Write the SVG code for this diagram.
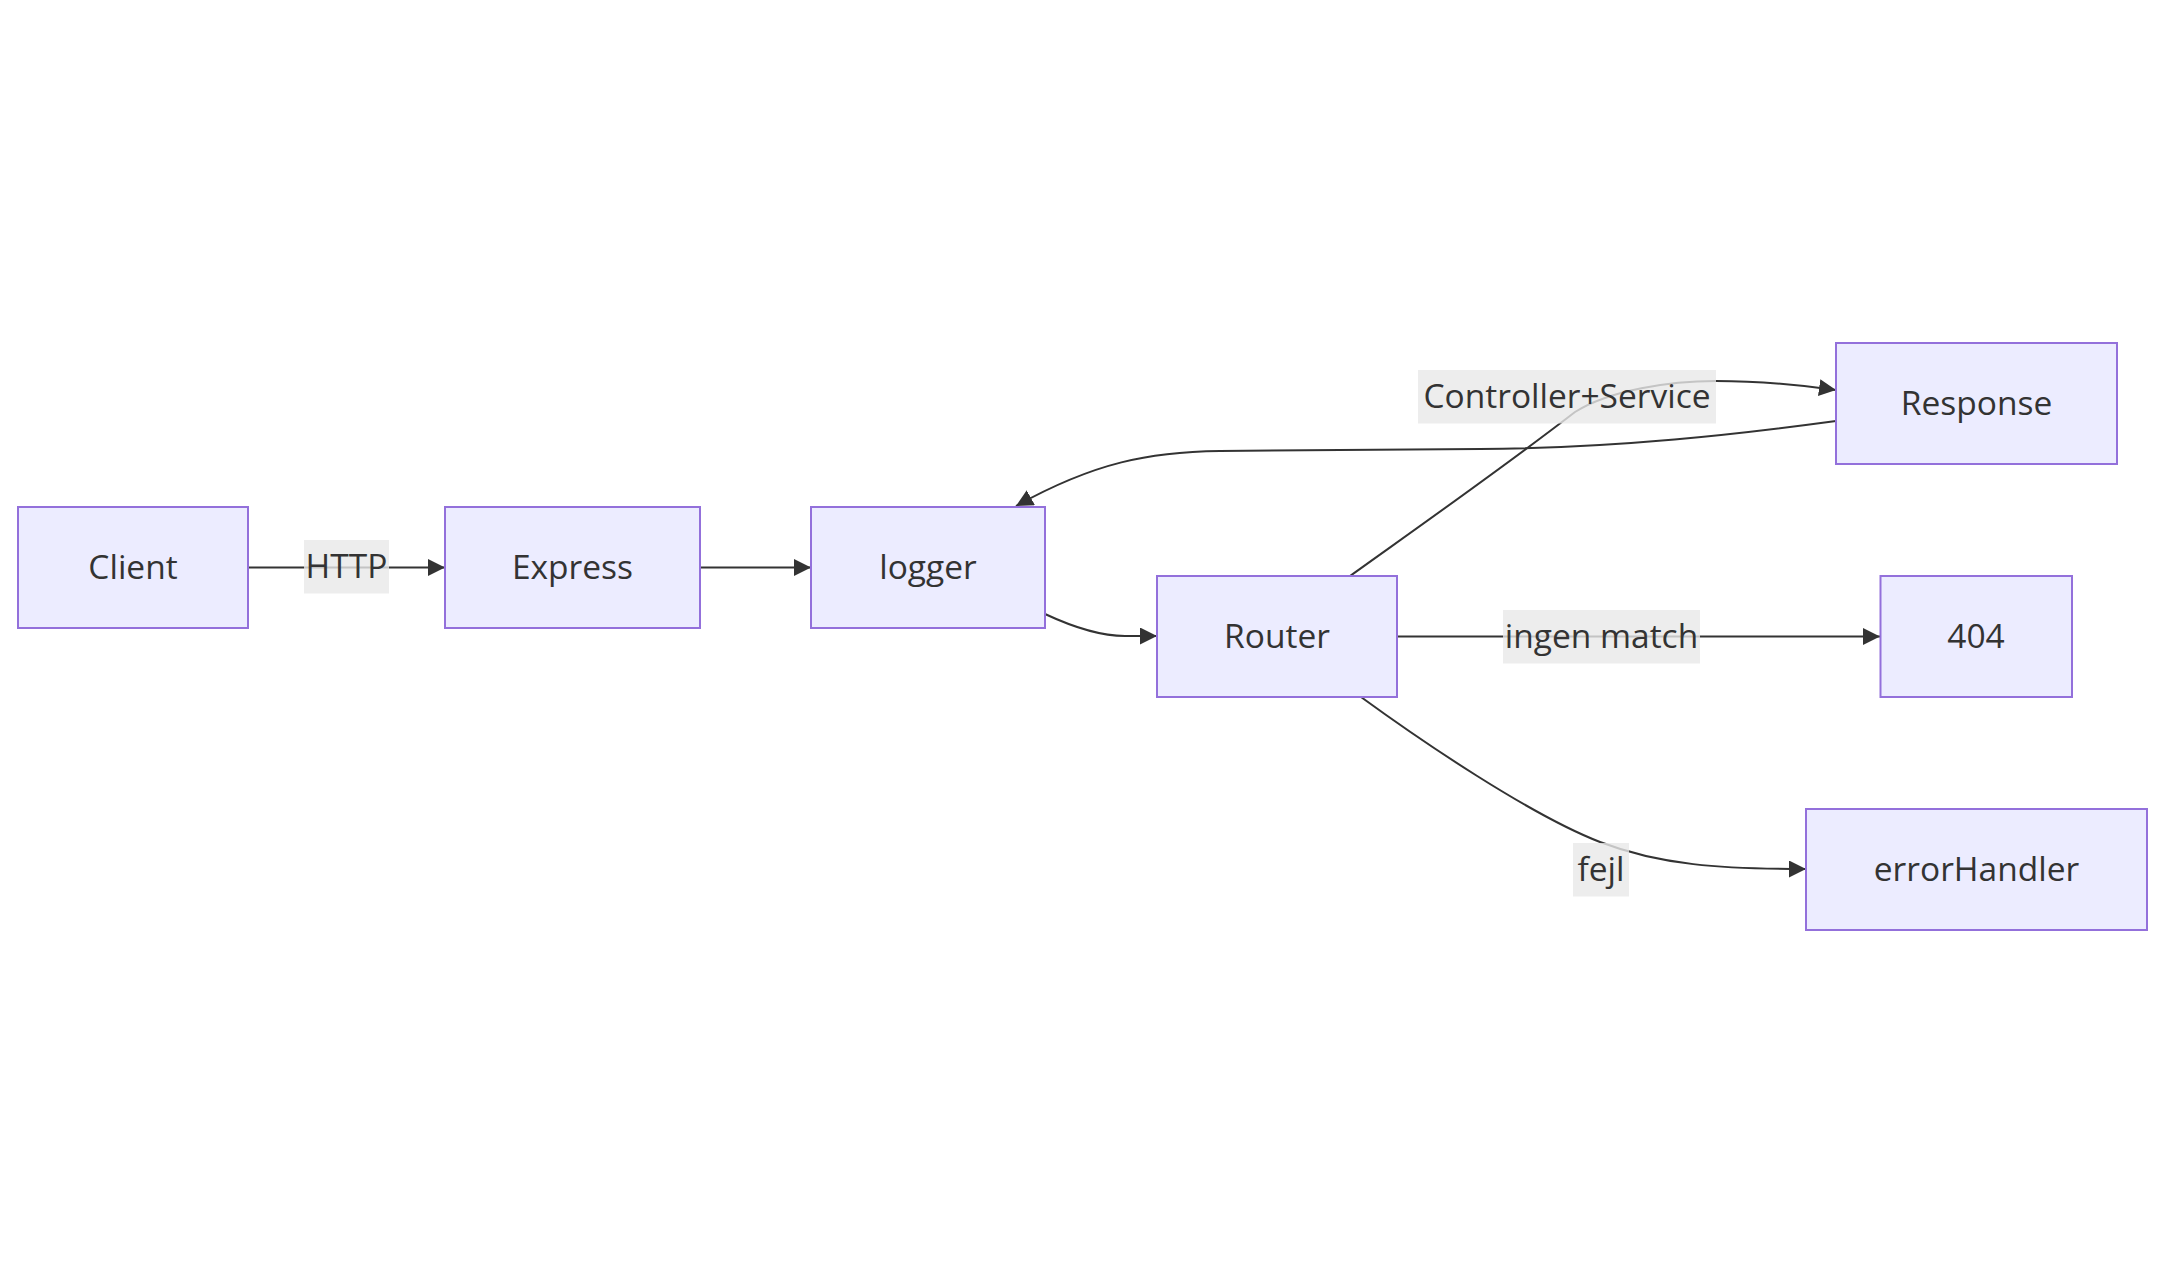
<svg xmlns="http://www.w3.org/2000/svg" width="2165" height="1273" viewBox="0 0 2165 1273">
<style>
.node rect{fill:#ECECFF;stroke:#9370DB;stroke-width:2}
.node text,.label text{font-family:"Open Sans","Noto Sans","DejaVu Sans",sans-serif;font-size:33.5px;fill:#333333;text-anchor:middle}
.edge{fill:none;stroke:#333333;stroke-width:2;marker-end:url(#arrow)}
.label rect{fill:#e8e8e8;fill-opacity:0.8}
</style>
<defs>
<marker id="arrow" viewBox="0 0 10 10" refX="10" refY="5" markerUnits="userSpaceOnUse" markerWidth="17" markerHeight="17" orient="auto">
<path d="M0,0 L10,5 L0,10 z" fill="#333333"/>
</marker>
</defs>
<rect width="2165" height="1273" fill="#ffffff"/>
<g id="edges">
<path class="edge" d="M248,567.5 L445,567.5"/>
<path class="edge" d="M700,567.5 L811,567.5"/>
<path class="edge" d="M1045,614 C1075,628 1100,636 1125,636 L1157,636"/>
<path class="edge" d="M1350,576 C1400,540 1500,470 1575,412 C1610,390 1670,381 1716,381 C1760,381 1800,385 1836,390"/>
<path class="edge" d="M1836,421 C1740,434 1620,448 1480,449 L1220,451 C1150,452 1095,462 1016,506"/>
<path class="edge" d="M1397,636.5 L1880,636.5"/>
<path class="edge" d="M1361,697 C1420,740 1530,815 1600,842 C1660,865 1720,869 1806,869"/>
</g>
<g id="edge-labels">
<g class="label" id="label-http"><rect x="304" y="540" width="85" height="53.5"/><text x="346.5" y="578">HTTP</text></g>
<g class="label" id="label-cs"><rect x="1418" y="370" width="298" height="53.5"/><text x="1567" y="408">Controller+Service</text></g>
<g class="label" id="label-ingen"><rect x="1503" y="610" width="197" height="53.5"/><text x="1601.5" y="648">ingen match</text></g>
<g class="label" id="label-fejl"><rect x="1573" y="843" width="56" height="53.5"/><text x="1601" y="881">fejl</text></g>
</g>
<g id="node-client" class="node"><rect x="18" y="507" width="230" height="121"/><text x="133" y="579">Client</text></g>
<g id="node-express" class="node"><rect x="445" y="507" width="255" height="121"/><text x="572.5" y="579">Express</text></g>
<g id="node-logger" class="node"><rect x="811" y="507" width="234" height="121"/><text x="928" y="579">logger</text></g>
<g id="node-router" class="node"><rect x="1157" y="576" width="240" height="121"/><text x="1277" y="648">Router</text></g>
<g id="node-response" class="node"><rect x="1836" y="343" width="281" height="121"/><text x="1976.5" y="415">Response</text></g>
<g id="node-404" class="node"><rect x="1880.5" y="576" width="191.5" height="121"/><text x="1976" y="648">404</text></g>
<g id="node-errorhandler" class="node"><rect x="1806" y="809" width="341" height="121"/><text x="1976.5" y="881">errorHandler</text></g>
</svg>
